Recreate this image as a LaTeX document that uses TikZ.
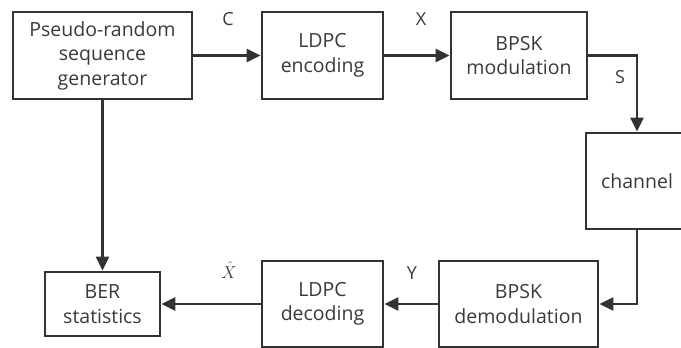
\documentclass[tikz,border=0pt]{standalone}
\usepackage{fontspec}
\setmainfont{Open Sans}
\usetikzlibrary{arrows.meta}
\definecolor{ln}{HTML}{333333}
\definecolor{tx}{HTML}{3A3A3A}
\begin{document}
\begin{tikzpicture}[x=1pt,y=-1pt,
  blk/.style={draw=ln,line width=2.7pt,fill=white,text=tx,align=center,
    font=\fontsize{19.5}{24.5}\selectfont,inner sep=0pt},
  conn/.style={draw=ln,line width=2.7pt,-{Triangle[length=14pt,width=13pt]}},
  lab/.style={text=tx,font=\fontsize{18}{20}\selectfont,inner sep=0pt}]
\useasboundingbox (0,0) rectangle (681,348);
\clip (0,0) rectangle (681,348);
\node[blk,minimum width=179pt,minimum height=87pt] (gen) at (102.5,55.5) {Pseudo-random\\sequence\\generator};
\node[blk,minimum width=121pt,minimum height=87pt] (enc) at (322.5,55.5) {LDPC\\encoding};
\node[blk,minimum width=136pt,minimum height=87pt] (mod) at (519,55.5) {BPSK\\modulation};
\node[blk,minimum width=102pt,minimum height=96pt] (ch) at (637,181) {channel};
\node[blk,minimum width=159pt,minimum height=86pt] (demod) at (518.5,304) {BPSK\\demodulation};
\node[blk,minimum width=121pt,minimum height=86pt] (dec) at (322.5,304) {LDPC\\decoding};
\node[blk,minimum width=115pt,minimum height=64pt] (ber) at (102.5,304) {BER\\statistics};
\draw[conn] (gen.east) -- (enc.west);
\draw[conn] (enc.east) -- (mod.west);
\draw[conn] (mod.east) -| (ch.north);
\draw[conn] (ch.south) |- (demod.east);
\draw[conn] (demod.west) -- (dec.east);
\draw[conn] (dec.west) -- (ber.east);
\draw[conn] (gen.south) -- (ber.north);
\node[lab] (lc) at (228,19) {C};
\node[lab] (lx) at (421,19) {X};
\node[lab] (ls) at (620,77) {S};
\node[lab] (ly) at (412,273) {Y};
\node[lab,font=\fontsize{19}{20}\selectfont] (lxh) at (229,270) {$\hat{X}$};
\end{tikzpicture}
\end{document}
